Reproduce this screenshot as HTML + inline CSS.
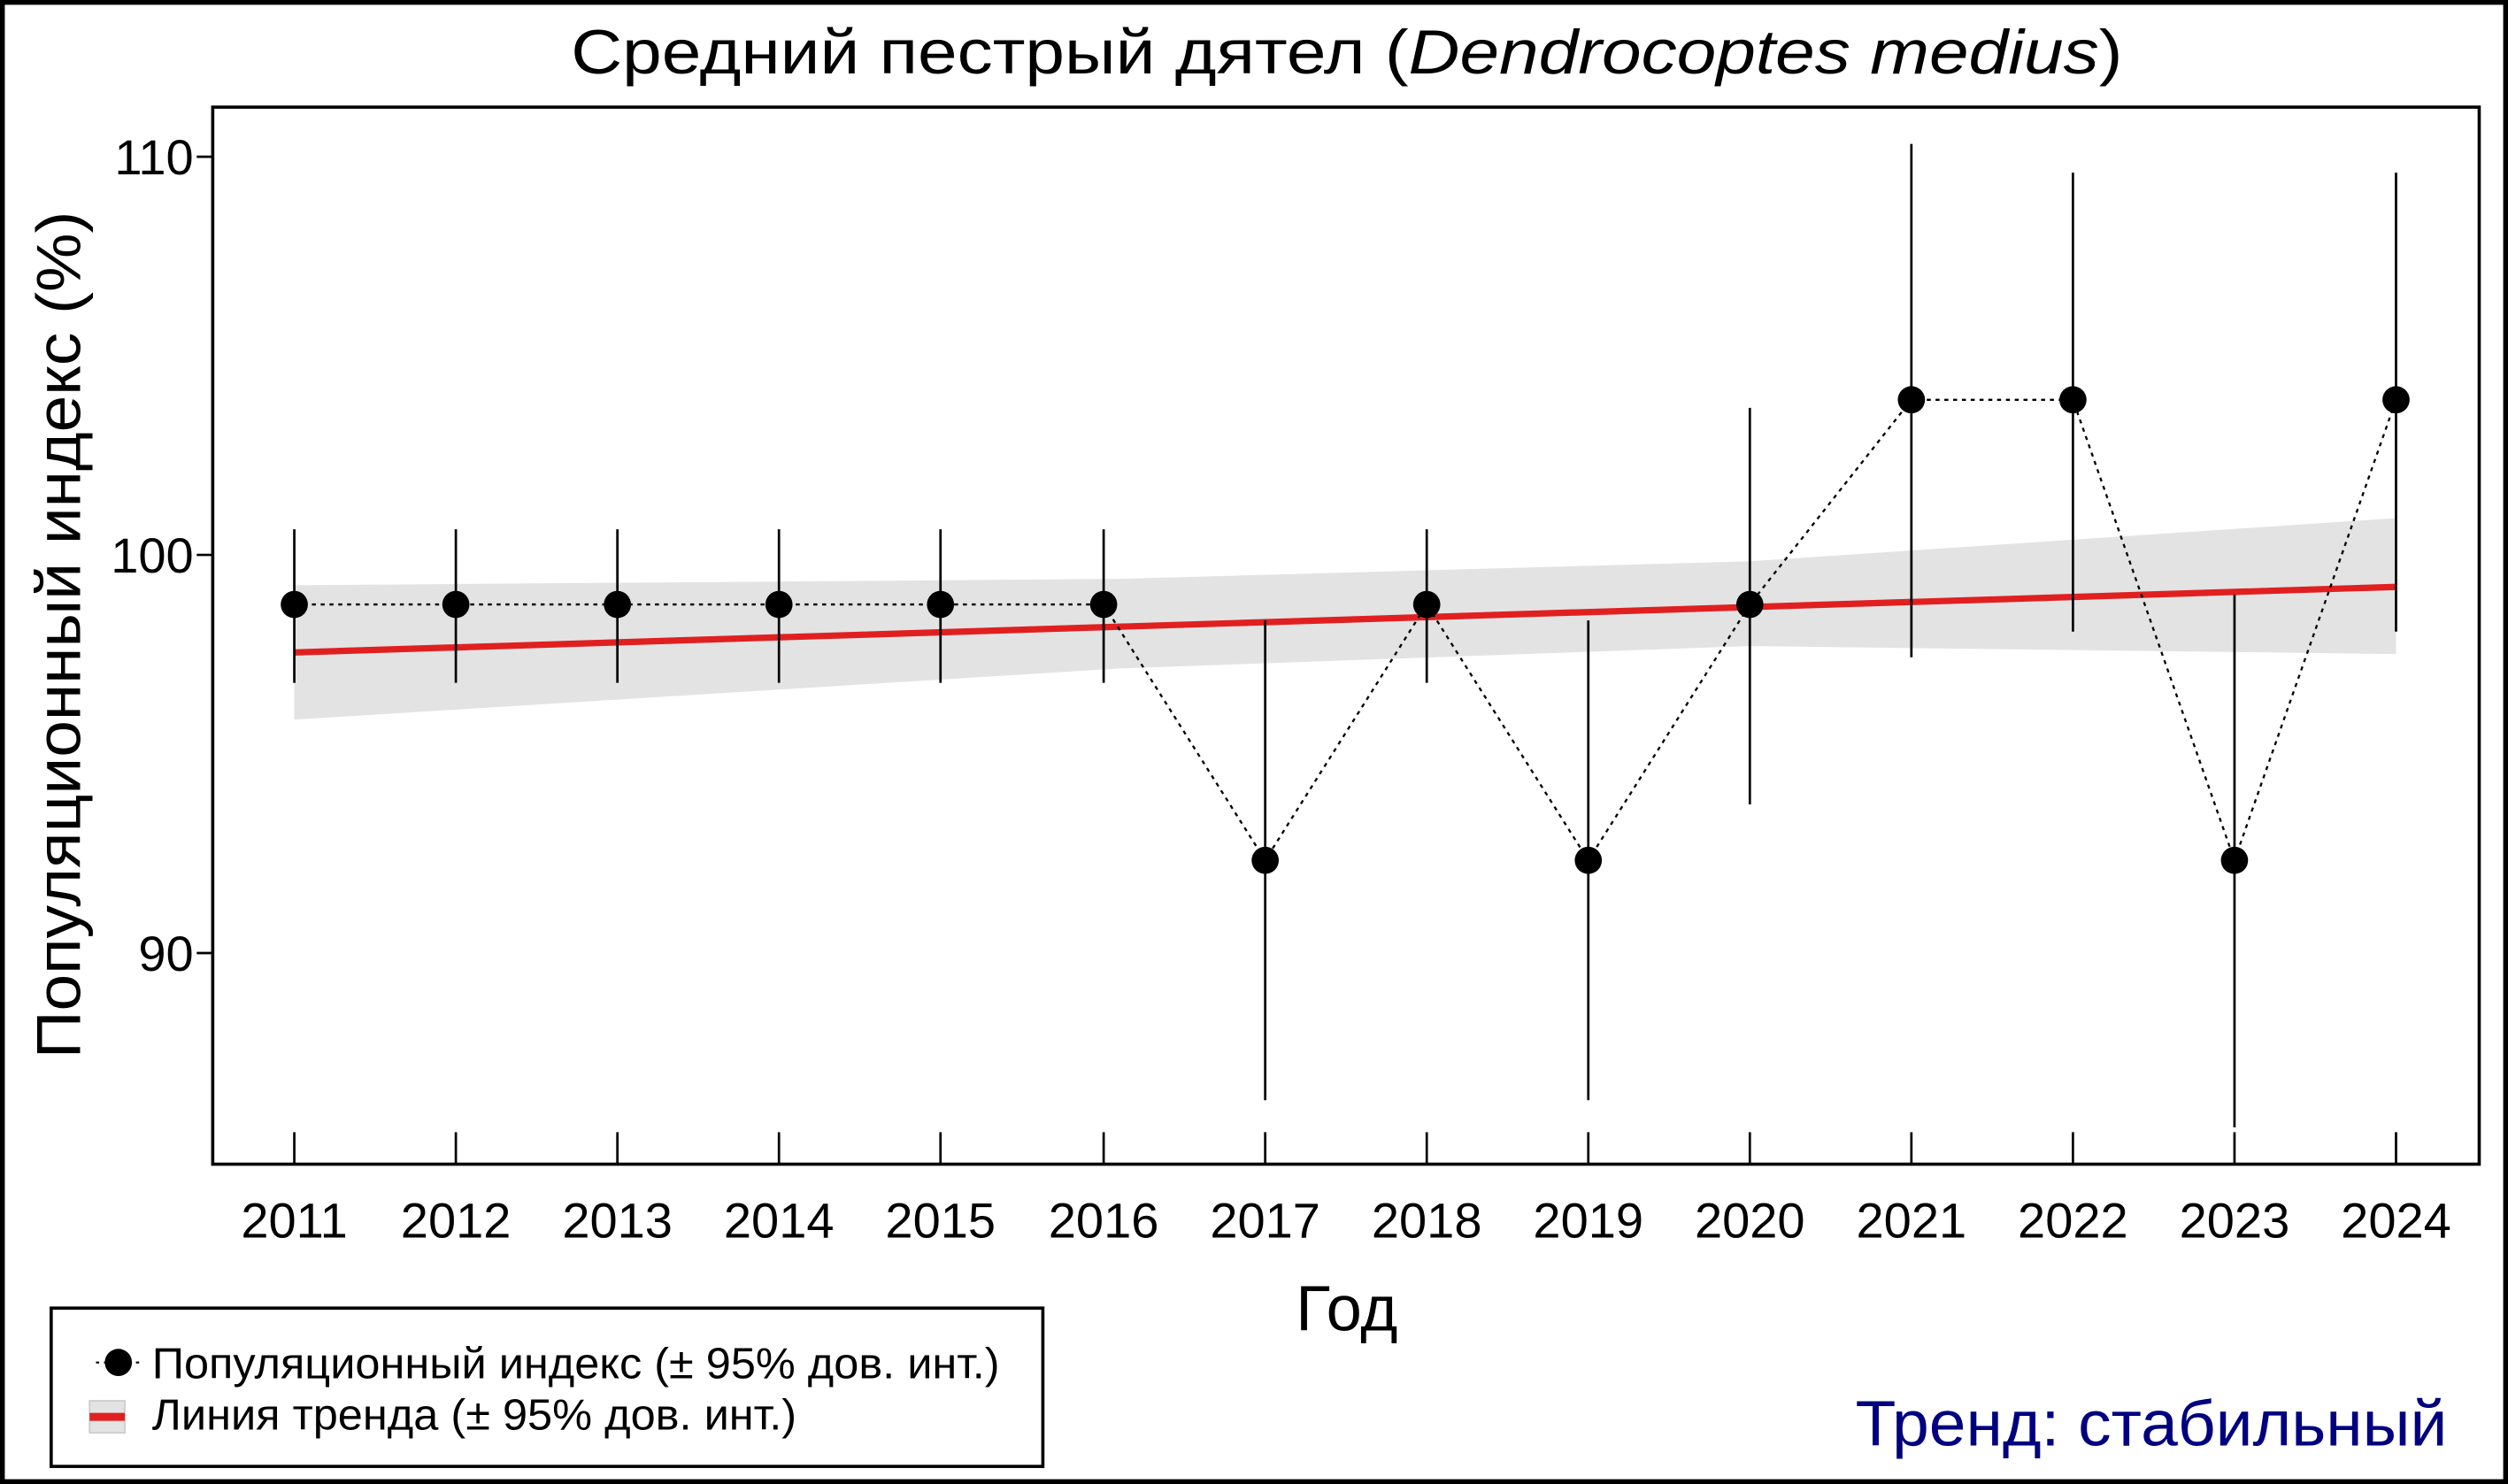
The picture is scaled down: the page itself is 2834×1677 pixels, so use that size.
<!DOCTYPE html>
<html><head><meta charset="utf-8"><style>html,body{margin:0;padding:0;background:#fff}svg{display:block}</style></head>
<body>
<svg width="2834" height="1677" viewBox="0 0 1568 928" preserveAspectRatio="none" xmlns="http://www.w3.org/2000/svg" font-family="Liberation Sans, Arial, sans-serif">
<rect x="1.5" y="1.5" width="1565" height="925" fill="#fff" stroke="#000" stroke-width="3"/>
<text x="842" y="46" font-size="39" text-anchor="middle" textLength="970" lengthAdjust="spacingAndGlyphs">Средний пестрый дятел (<tspan font-style="italic">Dendrocoptes medius</tspan>)</text>
<polygon points="184,366 700,362 1094,351 1498,324 1498,409 1094,404 700,418 184,450" fill="#e3e3e3"/>
<line x1="184" y1="408" x2="1498" y2="367" stroke="#e02020" stroke-width="4"/>
<rect x="133" y="67" width="1417" height="661" fill="none" stroke="#000" stroke-width="2"/>
<g stroke="#000" stroke-width="1.5">
<line x1="123" y1="98" x2="133" y2="98"/><line x1="123" y1="347" x2="133" y2="347"/><line x1="123" y1="596" x2="133" y2="596"/>
</g>
<g font-size="31" text-anchor="end">
<text x="121" y="109">110</text><text x="121" y="358">100</text><text x="121" y="607">90</text>
</g>
<g stroke="#000" stroke-width="1.5">
<line x1="184" y1="708" x2="184" y2="728"/><line x1="285" y1="708" x2="285" y2="728"/><line x1="386" y1="708" x2="386" y2="728"/><line x1="487" y1="708" x2="487" y2="728"/><line x1="588" y1="708" x2="588" y2="728"/><line x1="690" y1="708" x2="690" y2="728"/><line x1="791" y1="708" x2="791" y2="728"/><line x1="892" y1="708" x2="892" y2="728"/><line x1="993" y1="708" x2="993" y2="728"/><line x1="1094" y1="708" x2="1094" y2="728"/><line x1="1195" y1="708" x2="1195" y2="728"/><line x1="1296" y1="708" x2="1296" y2="728"/><line x1="1397" y1="708" x2="1397" y2="728"/><line x1="1498" y1="708" x2="1498" y2="728"/>
</g>
<g font-size="31" text-anchor="middle">
<text x="184" y="774">2011</text><text x="285" y="774">2012</text><text x="386" y="774">2013</text><text x="487" y="774">2014</text><text x="588" y="774">2015</text><text x="690" y="774">2016</text><text x="791" y="774">2017</text><text x="892" y="774">2018</text><text x="993" y="774">2019</text><text x="1094" y="774">2020</text><text x="1195" y="774">2021</text><text x="1296" y="774">2022</text><text x="1397" y="774">2023</text><text x="1498" y="774">2024</text>
</g>
<text x="842" y="832" font-size="40" text-anchor="middle">Год</text>
<text transform="translate(50,397) rotate(-90)" font-size="39" text-anchor="middle" textLength="530" lengthAdjust="spacingAndGlyphs">Популяционный индекс (%)</text>
<g stroke="#000" stroke-width="1.5">
<line x1="184" y1="331" x2="184" y2="427"/><line x1="285" y1="331" x2="285" y2="427"/><line x1="386" y1="331" x2="386" y2="427"/><line x1="487" y1="331" x2="487" y2="427"/><line x1="588" y1="331" x2="588" y2="427"/><line x1="690" y1="331" x2="690" y2="427"/>
<line x1="791" y1="388" x2="791" y2="688"/><line x1="892" y1="331" x2="892" y2="427"/><line x1="993" y1="388" x2="993" y2="688"/><line x1="1094" y1="255" x2="1094" y2="503"/>
<line x1="1195" y1="90" x2="1195" y2="411"/><line x1="1296" y1="108" x2="1296" y2="395"/><line x1="1397" y1="372" x2="1397" y2="705"/><line x1="1498" y1="108" x2="1498" y2="395"/>
</g>
<polyline points="184,378 285,378 386,378 487,378 588,378 690,378 791,538 892,378 993,538 1094,378 1195,250 1296,250 1397,538 1498,250" fill="none" stroke="#000" stroke-width="1.3" stroke-dasharray="2.5,3"/>
<g fill="#000">
<circle cx="184" cy="378" r="8.5"/><circle cx="285" cy="378" r="8.5"/><circle cx="386" cy="378" r="8.5"/><circle cx="487" cy="378" r="8.5"/><circle cx="588" cy="378" r="8.5"/><circle cx="690" cy="378" r="8.5"/><circle cx="791" cy="538" r="8.5"/><circle cx="892" cy="378" r="8.5"/><circle cx="993" cy="538" r="8.5"/><circle cx="1094" cy="378" r="8.5"/><circle cx="1195" cy="250" r="8.5"/><circle cx="1296" cy="250" r="8.5"/><circle cx="1397" cy="538" r="8.5"/><circle cx="1498" cy="250" r="8.5"/>
</g>
<rect x="32" y="818" width="620" height="99" fill="#fff" stroke="#000" stroke-width="2"/>
<line x1="60" y1="852" x2="88" y2="852" stroke="#000" stroke-width="1.2" stroke-dasharray="2,3"/>
<circle cx="74" cy="852" r="8.5" fill="#000"/>
<rect x="56" y="876" width="22" height="20" fill="#e3e3e3" stroke="#ccc"/>
<line x1="56" y1="886" x2="78" y2="886" stroke="#e02020" stroke-width="5"/>
<text x="95" y="862" font-size="27" textLength="530" lengthAdjust="spacingAndGlyphs">Популяционный индекс (± 95% дов. инт.)</text>
<text x="95" y="894" font-size="27" textLength="403" lengthAdjust="spacingAndGlyphs">Линия тренда (± 95% дов. инт.)</text>
<text x="1530" y="904" font-size="40" text-anchor="end" fill="#000080" textLength="370" lengthAdjust="spacingAndGlyphs">Тренд: стабильный</text>
</svg>
</body></html>
